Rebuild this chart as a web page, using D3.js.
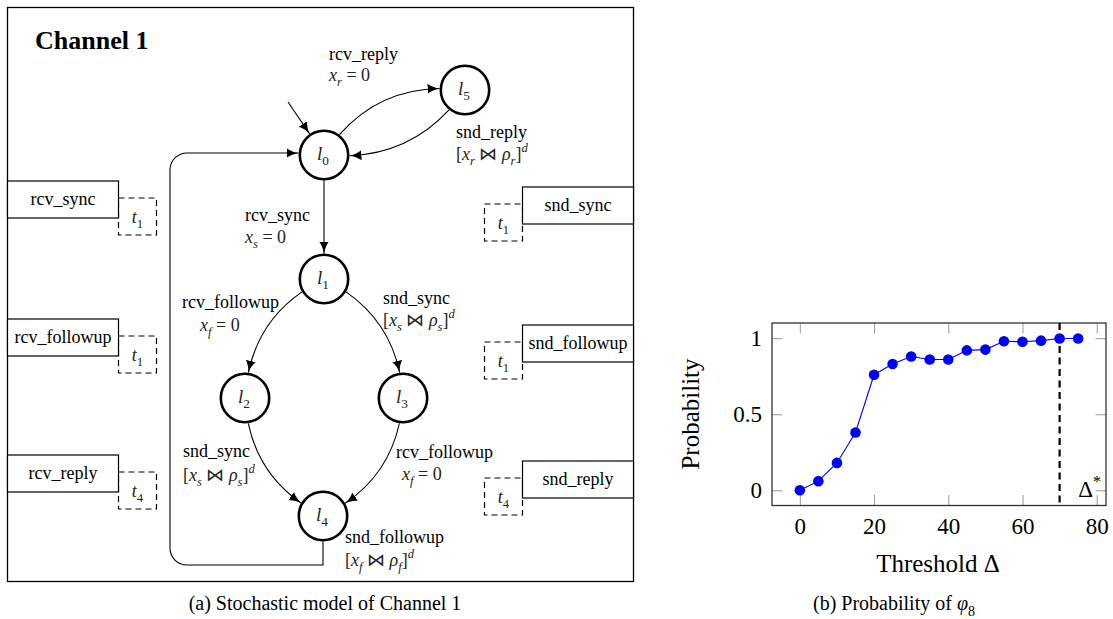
<!DOCTYPE html>
<head>
<meta charset="utf-8">
<style>
  body { margin: 0; background: #fff; }
  text, tspan { font-family: 'Liberation Serif' !important; }
</style>
<script src="https://cdn.jsdelivr.net/npm/d3@7/dist/d3.min.js"></script>
</head>
<body>
<script>
// ---- (b) probability of phi_8 versus threshold ----
var thresholds = [0, 5, 10, 15, 20, 25, 30, 35, 40, 45, 50, 55, 60, 65, 70, 75];
var probabilities = [0, 0.06, 0.18, 0.38, 0.76, 0.83, 0.88, 0.86, 0.86, 0.92, 0.925, 0.98, 0.977, 0.984, 0.998, 0.998];
var xTicks = [0, 20, 40, 60, 80];
var yTicks = [0, 0.5, 1];
var deltaStar = 70;

// ---- (a) stochastic model of channel 1 ----
var locations = [
  { id: "l0", label: "l_0", x: 324, y: 155 },
  { id: "l5", label: "l_5", x: 465, y: 90 },
  { id: "l1", label: "l_1", x: 324, y: 279 },
  { id: "l2", label: "l_2", x: 245, y: 398 },
  { id: "l3", label: "l_3", x: 403, y: 398 },
  { id: "l4", label: "l_4", x: 323, y: 516 }
];
// bend > 0 : bend left (as seen on screen), < 0 : bend right
var transitions = [
  { from: "l0", to: "l5", bend: 32 },
  { from: "l5", to: "l0", bend: 30 },
  { from: "l0", to: "l1", bend: 0 },
  { from: "l1", to: "l2", bend: -30 },
  { from: "l1", to: "l3", bend: 30 },
  { from: "l2", to: "l4", bend: -30 },
  { from: "l3", to: "l4", bend: 30 }
];
var edgeLabels = [
  { x: 329, y: 60, text: "rcv_reply", math: false },
  { x: 329, y: 81, text: "x_r = 0", math: true },
  { x: 456, y: 138, text: "snd_reply", math: false },
  { x: 456, y: 160, text: "[x_r ⋈ ρ_r]^d", math: true },
  { x: 245, y: 221, text: "rcv_sync", math: false },
  { x: 245, y: 243, text: "x_s = 0", math: true },
  { x: 182, y: 308, text: "rcv_followup", math: false },
  { x: 200, y: 331, text: "x_f = 0", math: true },
  { x: 383, y: 304, text: "snd_sync", math: false },
  { x: 383, y: 326, text: "[x_s ⋈ ρ_s]^d", math: true },
  { x: 183, y: 457, text: "snd_sync", math: false },
  { x: 183, y: 481, text: "[x_s ⋈ ρ_s]^d", math: true },
  { x: 396, y: 458, text: "rcv_followup", math: false },
  { x: 402, y: 480, text: "x_f = 0", math: true },
  { x: 345, y: 543, text: "snd_followup", math: false },
  { x: 345, y: 566, text: "[x_f ⋈ ρ_f]^d", math: true }
];
var ports = [
  { side: "left", name: "rcv_sync", timer: "t_1", top: 181 },
  { side: "left", name: "rcv_followup", timer: "t_1", top: 319 },
  { side: "left", name: "rcv_reply", timer: "t_4", top: 455 },
  { side: "right", name: "snd_sync", timer: "t_1", top: 187 },
  { side: "right", name: "snd_followup", timer: "t_1", top: 325 },
  { side: "right", name: "snd_reply", timer: "t_4", top: 461 }
];

var SERIF = "Liberation Serif";
var svg = d3.select("body").append("svg")
    .attr("width", 1113).attr("height", 619)
    .attr("font-family", SERIF);

function label(g, x, y, size) {
  return g.append("text").attr("x", x).attr("y", y)
      .attr("font-family", SERIF).attr("font-size", size).attr("fill", "#000");
}

// small math typesetter: lowercase letters italic, _x subscript, ^x superscript
function mathText(sel, str, size) {
  var base = 0, i = 0, run = null;
  while (i < str.length) {
    var mode = "n", ch = str[i];
    if (ch === "_" || ch === "^") { mode = ch; i++; ch = str[i]; }
    var italic = /[a-zα-ωφρ]/.test(ch);
    var target = mode === "_" ? size * 0.28 : mode === "^" ? -size * 0.42 : 0;
    if (mode === "n" && run && run.italic === italic && base === 0) {
      run.node.text(run.node.text() + ch);
    } else {
      var t = sel.append("tspan").text(ch)
          .attr("dy", target - base)
          .attr("font-family", SERIF)
          .attr("font-style", italic ? "italic" : "normal")
          .attr("font-size", mode === "n" ? size : size * 0.7);
      run = mode === "n" ? { node: t, italic: italic } : null;
      base = target;
    }
    i++;
  }
}

// ================= diagram (a) =================
var diag = svg.append("g");
diag.append("rect")
    .attr("x", 7.5).attr("y", 7.5).attr("width", 626).attr("height", 574)
    .attr("fill", "none").attr("stroke", "#000").attr("stroke-width", 1.3);

label(diag, 35, 49, 26).attr("font-weight", "bold").text("Channel 1");

var defs = svg.append("defs");
defs.append("marker")
    .attr("id", "arrow")
    .attr("markerUnits", "userSpaceOnUse")
    .attr("viewBox", "0 -6 12 12")
    .attr("markerWidth", 12).attr("markerHeight", 12)
    .attr("refX", 12).attr("refY", 0)
    .attr("orient", "auto")
  .append("path")
    .attr("d", "M0,-5 C3,-2.5 8,-0.6 12,0 C8,0.6 3,2.5 0,5 Z")
    .attr("fill", "#000");

var R = 25.5;  // circle radius to outer edge of stroke
var byId = {};
locations.forEach(function(d) { byId[d.id] = d; });

function cubicAt(P, t) {
  var mt = 1 - t;
  return [
    mt*mt*mt*P[0][0] + 3*mt*mt*t*P[1][0] + 3*mt*t*t*P[2][0] + t*t*t*P[3][0],
    mt*mt*mt*P[0][1] + 3*mt*mt*t*P[1][1] + 3*mt*t*t*P[2][1] + t*t*t*P[3][1]
  ];
}
function lerp(a, b, t) { return [a[0] + (b[0]-a[0])*t, a[1] + (b[1]-a[1])*t]; }
function split(P, t) {
  var a = lerp(P[0], P[1], t), b = lerp(P[1], P[2], t), c = lerp(P[2], P[3], t);
  var d = lerp(a, b, t), e = lerp(b, c, t), f = lerp(d, e, t);
  return [[P[0], a, d, f], [f, e, c, P[3]]];
}
function dist(p, q) { return Math.hypot(p[0]-q[0], p[1]-q[1]); }
function findT(P, c, lo, hi, outward) {
  for (var k = 0; k < 40; k++) {
    var m = (lo + hi) / 2;
    var inside = dist(cubicAt(P, m), c) < R;
    if (inside === outward) lo = m; else hi = m;
  }
  return (lo + hi) / 2;
}

transitions.forEach(function(tr) {
  var a = byId[tr.from], b = byId[tr.to];
  var p0 = [a.x, a.y], p3 = [b.x, b.y];
  var L = dist(p0, p3);
  var u = [(p3[0]-p0[0])/L, (p3[1]-p0[1])/L];
  var n = [u[1], -u[0]];
  var ang = tr.bend * Math.PI / 180;
  var out = [Math.cos(ang)*u[0] + Math.sin(ang)*n[0], Math.cos(ang)*u[1] + Math.sin(ang)*n[1]];
  var inn = [Math.cos(ang)*u[0] - Math.sin(ang)*n[0], Math.cos(ang)*u[1] - Math.sin(ang)*n[1]];
  var k = 0.3915 * L;
  var P = [p0, [p0[0] + k*out[0], p0[1] + k*out[1]], [p3[0] - k*inn[0], p3[1] - k*inn[1]], p3];
  var t0 = findT(P, p0, 0, 0.5, true);
  var t1 = findT(P, p3, 0.5, 1, false);
  var right = split(P, t0)[1];
  var seg = split(right, (t1 - t0) / (1 - t0))[0];
  var path = d3.path();
  path.moveTo(seg[0][0], seg[0][1]);
  path.bezierCurveTo(seg[1][0], seg[1][1], seg[2][0], seg[2][1], seg[3][0], seg[3][1]);
  diag.append("path")
      .attr("d", path.toString())
      .attr("fill", "none").attr("stroke", "#000").attr("stroke-width", 1.1)
      .attr("marker-end", "url(#arrow)");
});

// initial arrow into l0
(function() {
  var l0 = byId.l0, s = [288, 102];
  var L = dist(s, [l0.x, l0.y]);
  var e = [l0.x - (l0.x - s[0]) / L * R, l0.y - (l0.y - s[1]) / L * R];
  diag.append("path")
      .attr("d", "M" + s[0] + "," + s[1] + "L" + e[0] + "," + e[1])
      .attr("fill", "none").attr("stroke", "#000").attr("stroke-width", 1.1)
      .attr("marker-end", "url(#arrow)");
})();

// loop back l4 -> l0 round the left
(function() {
  var l4 = byId.l4, l0 = byId.l0, yb = 565, xl = 170, yt = 153, r = 17;
  var p = d3.path();
  p.moveTo(l4.x, l4.y + R);
  p.lineTo(l4.x, yb);
  p.lineTo(xl + r, yb);
  p.arcTo(xl, yb, xl, yb - r, r);
  p.lineTo(xl, yt + r);
  p.arcTo(xl, yt, xl + r, yt, r);
  p.lineTo(l0.x - R, yt);
  diag.append("path")
      .attr("d", p.toString())
      .attr("fill", "none").attr("stroke", "#000").attr("stroke-width", 1.1)
      .attr("marker-end", "url(#arrow)");
})();

var locG = diag.selectAll(".loc").data(locations).enter().append("g").attr("class", "loc");
locG.append("circle")
    .attr("cx", function(d) { return d.x; }).attr("cy", function(d) { return d.y; })
    .attr("r", R - 1.3)
    .attr("fill", "#fff").attr("stroke", "#000").attr("stroke-width", 2.6);
locG.each(function(d) {
  var t = label(d3.select(this), d.x - 1, d.y + 5, 19).attr("text-anchor", "middle").attr("fill", "#222");
  mathText(t, d.label, 19);
});

edgeLabels.forEach(function(d) {
  var t = label(diag, d.x, d.y, 18);
  if (d.math) {
    t.attr("fill", "#222");
    mathText(t, d.text, 18);
  } else {
    t.text(d.text);
  }
});

// channel ports with their timers
var boxW = 111, boxH = 37, timerW = 38;
ports.forEach(function(d) {
  var bx = d.side === "left" ? 7.5 : 633.5 - boxW;
  var tx = d.side === "left" ? bx + boxW : bx - timerW;
  var ty = d.top + 17;
  diag.append("rect")
      .attr("x", tx).attr("y", ty).attr("width", timerW).attr("height", boxH)
      .attr("fill", "none").attr("stroke", "#000").attr("stroke-width", 1.2)
      .attr("stroke-dasharray", "6,4");
  diag.append("rect")
      .attr("x", bx).attr("y", d.top).attr("width", boxW).attr("height", boxH)
      .attr("fill", "#fff").attr("stroke", "#000").attr("stroke-width", 1.2);
  label(diag, bx + boxW / 2, d.top + boxH / 2 + 5, 18)
      .attr("text-anchor", "middle")
      .text(d.name);
  var tt = label(diag, tx + timerW / 2, ty + boxH / 2 + 6, 18)
      .attr("text-anchor", "middle").attr("fill", "#222");
  mathText(tt, d.timer, 18);
});

label(svg, 325, 610, 20)
    .attr("text-anchor", "middle")
    .text("(a) Stochastic model of Channel 1");

// ================= chart (b) =================
var x = d3.scaleLinear().domain([-7.5, 82.5]).range([772, 1106]);
var y = d3.scaleLinear().domain([-0.1, 1.1]).range([505.5, 323]);
var chart = svg.append("g");
var tickLen = 10.5;

chart.append("g")
    .attr("transform", "translate(0," + y.range()[0] + ")")
    .call(d3.axisBottom(x).tickValues(xTicks).tickSize(-tickLen).tickPadding(12).tickFormat(d3.format("d")));
chart.append("g")
    .attr("transform", "translate(0," + y.range()[1] + ")")
    .call(d3.axisTop(x).tickValues(xTicks).tickSize(-tickLen).tickFormat(""));
chart.append("g")
    .attr("transform", "translate(" + x.range()[0] + ",0)")
    .call(d3.axisLeft(y).tickValues(yTicks).tickSize(-tickLen).tickPadding(10).tickFormat(function(d) { return String(d); }));
chart.append("g")
    .attr("transform", "translate(" + x.range()[1] + ",0)")
    .call(d3.axisRight(y).tickValues(yTicks).tickSize(-tickLen).tickFormat(""));

chart.selectAll(".domain").remove();
chart.selectAll("g").attr("font-family", SERIF).attr("font-size", 23);
chart.selectAll(".tick line").attr("stroke", "#999").attr("stroke-width", 1);
chart.selectAll(".tick text")
    .attr("font-family", SERIF)
    .attr("font-size", 23).attr("fill", "#000");

chart.append("rect")
    .attr("x", x.range()[0]).attr("y", y.range()[1])
    .attr("width", x.range()[1] - x.range()[0]).attr("height", y.range()[0] - y.range()[1])
    .attr("fill", "none").attr("stroke", "#333").attr("stroke-width", 1.3);

var pts = thresholds.map(function(t, i) { return [t, probabilities[i]]; });
chart.append("path")
    .datum(pts)
    .attr("d", d3.line().x(function(d) { return x(d[0]); }).y(function(d) { return y(d[1]); }))
    .attr("fill", "none").attr("stroke", "#0000ff").attr("stroke-width", 1.1);

chart.append("line")
    .attr("x1", x(deltaStar)).attr("x2", x(deltaStar))
    .attr("y1", y.range()[1]).attr("y2", y.range()[0])
    .attr("stroke", "#000").attr("stroke-width", 2.2).attr("stroke-dasharray", "7,4.5");

chart.selectAll(".dot").data(pts).enter().append("circle")
    .attr("class", "dot")
    .attr("cx", function(d) { return x(d[0]); }).attr("cy", function(d) { return y(d[1]); })
    .attr("r", 5.3).attr("fill", "#0000ee");

var ds = label(chart, 1101, 497, 23).attr("text-anchor", "end");
mathText(ds, "Δ^*", 23);

label(chart, 938, 572, 25)
    .attr("text-anchor", "middle")
    .text("Threshold Δ");

label(chart, 0, 0, 25)
    .attr("transform", "translate(699,414) rotate(-90)")
    .attr("text-anchor", "middle")
    .text("Probability");

var capB = label(svg, 894, 610, 20)
    .attr("text-anchor", "middle")
    .text("(b) Probability of ");
mathText(capB, "φ_8", 20);
</script>
</body>
</html>
